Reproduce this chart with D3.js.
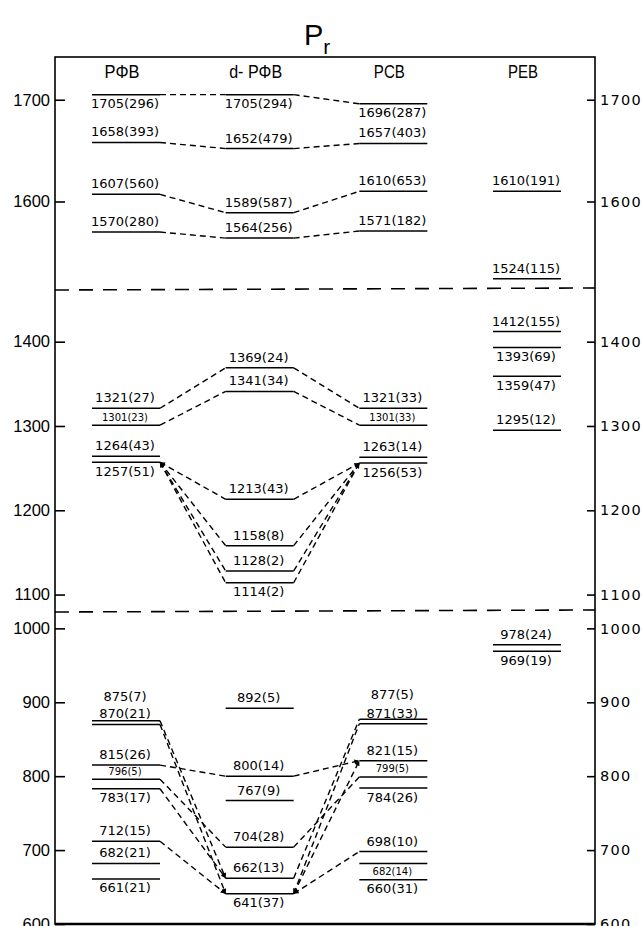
<!DOCTYPE html>
<html>
<head>
<meta charset="utf-8">
<script src="https://cdn.jsdelivr.net/npm/d3@7"></script>
<style>
body { margin: 0; background: #fff; }
text { fill: #000; }
</style>
</head>
<body>
<script>
var width = 643, height = 926;

var columns = ["PΦB", "d- PΦB", "PCB", "PEB"];

// each level: [wavenumber, intensity, label placement]
// a = above, b = below, A = above (stacked, upper), s = small above, t = small below
var pfbLevels = [
  [1705, 296, "b"], [1658, 393, "a"], [1607, 560, "a"], [1570, 280, "a"],
  [1321, 27, "a"], [1301, 23, "s"], [1264, 43, "a"], [1257, 51, "b"],
  [875, 7, "A"], [870, 21, "a"], [815, 26, "a"], [796, 5, "s"], [783, 17, "b"],
  [712, 15, "a"], [682, 21, "a"], [661, 21, "b"]
];
var dpfbLevels = [
  [1705, 294, "b"], [1652, 479, "a"], [1589, 587, "a"], [1564, 256, "a"],
  [1369, 24, "a"], [1341, 34, "a"], [1213, 43, "a"], [1158, 8, "a"], [1128, 2, "a"], [1114, 2, "b"],
  [892, 5, "a"], [800, 14, "a"], [767, 9, "a"], [704, 28, "a"], [662, 13, "a"], [641, 37, "b"]
];
var pcbLevels = [
  [1696, 287, "b"], [1657, 403, "a"], [1610, 653, "a"], [1571, 182, "a"],
  [1321, 33, "a"], [1301, 33, "s"], [1263, 14, "a"], [1256, 53, "b"],
  [877, 5, "A"], [871, 33, "a"], [821, 15, "a"], [799, 5, "s"], [784, 26, "b"],
  [698, 10, "a"], [682, 14, "t"], [660, 31, "b"]
];
var pebLevels = [
  [1610, 191, "a"], [1524, 115, "a"],
  [1412, 155, "a"], [1393, 69, "b"], [1359, 47, "b"], [1295, 12, "a"],
  [978, 24, "a"], [969, 19, "b"]
];

// correlations: [from column, from level, to column, to level]
var links = [
  [0, 1705, 1, 1705], [1, 1705, 2, 1696],
  [0, 1658, 1, 1652], [1, 1652, 2, 1657],
  [0, 1607, 1, 1589], [1, 1589, 2, 1610],
  [0, 1570, 1, 1564], [1, 1564, 2, 1571],
  [0, 1321, 1, 1369], [1, 1369, 2, 1321],
  [0, 1301, 1, 1341], [1, 1341, 2, 1301],
  [0, 1257, 1, 1213], [0, 1257, 1, 1158], [0, 1257, 1, 1128], [0, 1257, 1, 1114],
  [1, 1213, 2, 1256], [1, 1158, 2, 1256], [1, 1128, 2, 1256], [1, 1114, 2, 1256],
  [0, 875, 1, 662], [0, 870, 1, 641], [0, 815, 1, 800], [0, 796, 1, 704],
  [0, 783, 1, 662], [0, 712, 1, 641],
  [1, 800, 2, 821], [1, 704, 2, 799], [1, 662, 2, 877], [1, 641, 2, 871],
  [1, 641, 2, 821], [1, 641, 2, 698]
];

var leftTicks = [1700, 1600, 1400, 1300, 1200, 1100, 1000, 900, 800, 700, 600];
var rightTicks = [1700, 1600, 1400, 1300, 1200, 1100, 1000, 900, 800, 700, 600];

// broken axis: three pieces, top to bottom
var pieces = [[1514, 1742], [1080.5, 1462.5], [600, 1023.5]];

var frame = {left: 55, right: 595, top: 57, bottom: 924};
var cuts = [289, 611];

var svg = d3.select("body").append("svg")
    .attr("width", width)
    .attr("height", height)
    .style("font-family", "'DejaVu Sans', sans-serif");

var pieceRanges = [[cuts[0], frame.top], [cuts[1], cuts[0]], [frame.bottom, cuts[1]]];
var scales = pieces.map(function (d, i) {
    return d3.scaleLinear().domain(d).range(pieceRanges[i]);
});

function y(v) {
    for (var i = 0; i < pieces.length; i++) {
        if (v >= pieces[i][0] && v <= pieces[i][1]) return scales[i](v);
    }
    return NaN;
}

var x = d3.scalePoint().domain(columns).range([126, 527]);
var half = 34;

var levels = [pfbLevels, dpfbLevels, pcbLevels, pebLevels];

// title
var title = svg.append("text")
    .attr("x", 304)
    .attr("y", 45)
    .style("font-family", "'Liberation Sans', Arial, sans-serif")
    .style("font-size", "29px");
title.append("tspan").text("P");
title.append("tspan").attr("dy", 9).style("font-size", "21px").text("r");

// frame
svg.append("rect")
    .attr("x", frame.left)
    .attr("y", frame.top)
    .attr("width", frame.right - frame.left)
    .attr("height", frame.bottom - frame.top)
    .attr("fill", "none")
    .attr("stroke", "#000")
    .attr("stroke-width", 1.6);
svg.append("line")
    .attr("x1", frame.left).attr("x2", frame.right)
    .attr("y1", frame.bottom).attr("y2", frame.bottom)
    .attr("stroke", "#000").attr("stroke-width", 2.5);

// axes, one per piece
scales.forEach(function (s, i) {
    var dom = pieces[i];
    var inPiece = function (t) { return t >= dom[0] && t <= dom[1]; };

    var left = svg.append("g")
        .attr("transform", "translate(" + frame.left + ",0)")
        .call(d3.axisLeft(s)
            .tickValues(leftTicks.filter(inPiece))
            .tickSizeInner(-10)
            .tickSizeOuter(0)
            .tickPadding(5)
            .tickFormat(d3.format("d")));
    left.select(".domain").remove();
    left.selectAll("line").attr("stroke-width", 1.6);
    left.selectAll("text")
        .style("font-family", "'Liberation Sans', Arial, sans-serif")
        .style("font-size", "16.5px")
        .attr("fill", "#000");

    var right = svg.append("g")
        .attr("transform", "translate(" + frame.right + ",0)")
        .call(d3.axisRight(s)
            .tickValues(rightTicks.filter(inPiece))
            .tickSizeInner(-8)
            .tickSizeOuter(0)
            .tickPadding(5)
            .tickFormat(d3.format("d")));
    right.select(".domain").remove();
    right.selectAll("line").attr("stroke-width", 1.6);
    right.selectAll("text")
        .style("font-family", "'DejaVu Sans', sans-serif")
        .style("font-size", "14.5px")
        .style("letter-spacing", "1.3px")
        .attr("fill", "#000");
});

// axis breaks
cuts.forEach(function (c) {
    svg.append("line")
        .attr("x1", frame.left).attr("y1", c + 1)
        .attr("x2", frame.right - 8).attr("y2", c - 1)
        .attr("stroke", "#000")
        .attr("stroke-width", 1.6)
        .attr("stroke-dasharray", "14,10");
    svg.append("line")
        .attr("x1", frame.right - 8).attr("y1", c - 1)
        .attr("x2", frame.right).attr("y2", c - 1)
        .attr("stroke", "#000")
        .attr("stroke-width", 1.6);
});

// column headers
var headerWidths = [35, 53, 31, 30];
svg.selectAll(".header")
    .data(columns)
    .enter().append("text")
    .attr("class", "header")
    .attr("x", function (d, i) { return x(d) - 4 - headerWidths[i] / 2; })
    .attr("y", 78)
    .attr("textLength", function (d, i) { return headerWidths[i]; })
    .attr("lengthAdjust", "spacingAndGlyphs")
    .style("font-family", "'Liberation Sans', Arial, sans-serif")
    .style("font-size", "19px")
    .text(function (d) { return d; });

// arrowhead
var defs = svg.append("defs");
defs.append("marker")
    .attr("id", "arrow")
    .attr("viewBox", "0 0 10 10")
    .attr("refX", 10).attr("refY", 5)
    .attr("markerWidth", 6).attr("markerHeight", 5)
    .attr("markerUnits", "userSpaceOnUse")
    .attr("orient", "auto-start-reverse")
    .append("path")
    .attr("d", "M0,0 L10,5 L0,10 Z")
    .attr("fill", "#000");

// correlation lines
var endCount = {}, startCount = {};
links.forEach(function (l) {
    var s = l[0] + ":" + l[1], t = l[2] + ":" + l[3];
    startCount[s] = (startCount[s] || 0) + 1;
    endCount[t] = (endCount[t] || 0) + 1;
});

svg.append("g")
    .selectAll("line")
    .data(links)
    .enter().append("line")
    .attr("x1", function (d) { return x(columns[d[0]]) + half; })
    .attr("y1", function (d) { return y(d[1]); })
    .attr("x2", function (d) { return x(columns[d[2]]) - half; })
    .attr("y2", function (d) { return y(d[3]); })
    .attr("stroke", "#000")
    .attr("stroke-width", 1.4)
    .attr("stroke-dasharray", "6,4")
    .attr("marker-start", function (d) { return startCount[d[0] + ":" + d[1]] >= 3 ? "url(#arrow)" : null; })
    .attr("marker-end", function (d) { return endCount[d[2] + ":" + d[3]] >= 2 ? "url(#arrow)" : null; });

// levels and labels
var labelDy = {a: -6, b: 13.5, A: -20, s: -4.5, t: 11.5};

levels.forEach(function (lv, ci) {
    var cx = x(columns[ci]);
    var g = svg.append("g");
    g.selectAll("line")
        .data(lv)
        .enter().append("line")
        .attr("x1", cx - half)
        .attr("x2", cx + half)
        .attr("y1", function (d) { return y(d[0]); })
        .attr("y2", function (d) { return y(d[0]); })
        .attr("stroke", "#000")
        .attr("stroke-width", 1.5);
    g.selectAll("text")
        .data(lv)
        .enter().append("text")
        .attr("x", cx - 1)
        .attr("y", function (d) { return y(d[0]) + labelDy[d[2]]; })
        .attr("text-anchor", "middle")
        .style("font-size", function (d) { return (d[2] === "s" || d[2] === "t") ? "10px" : "13px"; })
        .text(function (d) { return d[0] + "(" + d[1] + ")"; });
});
</script>
</body>
</html>
